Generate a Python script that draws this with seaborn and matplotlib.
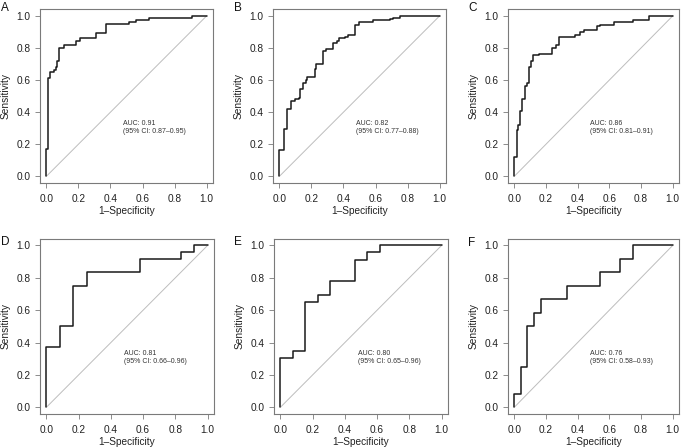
import numpy as np
import matplotlib
matplotlib.use('Agg')
import matplotlib.pyplot as plt
import seaborn as sns

# ROC step points (fpr, tpr), one pair per panel
fpr_a = [0, 0, 0.012, 0.02, 0.047, 0.057, 0.068, 0.078, 0.11, 0.186, 0.21, 0.31, 0.37, 0.515, 0.56, 0.64, 0.91, 1.0]
tpr_a = [0, 0.17, 0.61, 0.65, 0.665, 0.68, 0.72, 0.80, 0.82, 0.845, 0.86, 0.895, 0.95, 0.965, 0.975, 0.99, 1.0, 1.0]

fpr_b = [0, 0, 0.03, 0.05, 0.07, 0.10, 0.12, 0.13, 0.15, 0.165, 0.175, 0.22, 0.23, 0.275, 0.29, 0.335,
         0.36, 0.37, 0.41, 0.43, 0.475, 0.50, 0.565, 0.585, 0.69, 0.71, 0.75, 1.0]
tpr_b = [0, 0.165, 0.295, 0.42, 0.47, 0.48, 0.49, 0.545, 0.58, 0.60, 0.62, 0.67, 0.70, 0.78, 0.795, 0.83,
         0.845, 0.86, 0.87, 0.88, 0.945, 0.96, 0.965, 0.975, 0.98, 0.985, 1.0, 1.0]

fpr_c = [0, 0, 0.016, 0.025, 0.035, 0.05, 0.065, 0.08, 0.09, 0.105, 0.12, 0.155, 0.235, 0.26, 0.285,
         0.38, 0.415, 0.44, 0.52, 0.54, 0.63, 0.75, 0.85, 1.0]
tpr_c = [0, 0.12, 0.29, 0.32, 0.41, 0.48, 0.565, 0.58, 0.68, 0.72, 0.755, 0.765, 0.80, 0.82, 0.87,
         0.88, 0.90, 0.91, 0.94, 0.945, 0.965, 0.975, 1.0, 1.0]

fpr_d = [0, 0, 0.083, 0.167, 0.25, 0.583, 0.833, 0.917, 1.0]
tpr_d = [0, 0.375, 0.50, 0.75, 0.833, 0.917, 0.958, 1.0, 1.0]

fpr_e = [0, 0, 0.077, 0.154, 0.231, 0.308, 0.462, 0.538, 0.615, 1.0]
tpr_e = [0, 0.304, 0.348, 0.652, 0.696, 0.783, 0.913, 0.957, 1.0, 1.0]

fpr_f = [0, 0, 0.042, 0.083, 0.125, 0.167, 0.333, 0.54, 0.667, 0.75, 1.0]
tpr_f = [0, 0.083, 0.25, 0.50, 0.583, 0.667, 0.75, 0.833, 0.917, 1.0, 1.0]

panel_letters = ['A', 'B', 'C', 'D', 'E', 'F']
auc_values = ['0.91', '0.82', '0.86', '0.81', '0.80', '0.76']
ci_values = ['0.87–0.95', '0.77–0.88', '0.81–0.91', '0.66–0.96', '0.65–0.96', '0.58–0.93']
ticks = [0.0, 0.2, 0.4, 0.6, 0.8, 1.0]

curves = [(fpr_a, tpr_a), (fpr_b, tpr_b), (fpr_c, tpr_c),
          (fpr_d, tpr_d), (fpr_e, tpr_e), (fpr_f, tpr_f)]

# axes boxes in pixels: left, right, top, bottom
boxes = [(40, 213, 9.5, 182.7), (273, 446, 9.5, 182.7), (508, 679, 9.5, 182.7),
         (40, 214, 239, 413.7), (274, 448, 239, 413.7), (508, 679, 239, 413.7)]
letter_pos = [(1, 2), (234, 2), (468, 2), (1, 236), (234, 236), (468, 237)]

sns.set_theme(style='ticks')
plt.rcParams['font.family'] = ['Liberation Sans', 'DejaVu Sans']

W, H = 685, 448
fig = plt.figure(figsize=(W / 100, H / 100), dpi=100)
box_col = '#7a7a7a'
txt_col = '#222222'

for i, (fpr, tpr) in enumerate(curves):
    l, r, t, b = boxes[i]
    ax = fig.add_axes([l / W, 1 - b / H, (r - l) / W, (b - t) / H])
    ax.plot([0, 1], [0, 1], color='#bdbdbd', lw=0.7)
    sns.lineplot(x=fpr, y=tpr, ax=ax, estimator=None, sort=False,
                 drawstyle='steps-post', color='#1a1a1a', lw=1.1)
    ax.set_xlim(-0.04, 1.04)
    ax.set_ylim(-0.04, 1.04)
    ax.set_xticks(ticks)
    ax.set_yticks(ticks)
    ax.set_xticklabels([f'{v:.1f}' for v in ticks])
    ax.set_yticklabels([f'{v:.1f}' for v in ticks])
    ax.tick_params(labelsize=7.3, length=3.8, width=0.6, color=box_col, labelcolor=txt_col)
    ax.tick_params(axis='x', pad=4)
    ax.tick_params(axis='y', pad=3)
    for s in ax.spines.values():
        s.set_color(box_col)
        s.set_linewidth(0.8)
    ax.set_xlabel('1–Specificity', fontsize=7.3, labelpad=1.5, color=txt_col)
    ax.set_ylabel('Sensitivity', fontsize=7.3, labelpad=4, color=txt_col)
    ax.text(0.48, 0.33, f'AUC: {auc_values[i]}', fontsize=5, color='#333333', va='center')
    ax.text(0.48, 0.28, f'(95% CI: {ci_values[i]})', fontsize=5, color='#333333', va='center')
    lx, ly = letter_pos[i]
    fig.text(lx / W, 1 - ly / H, panel_letters[i], fontsize=8.5, va='top', ha='left', color='#111111')

fig.savefig('out.png', dpi=100)
